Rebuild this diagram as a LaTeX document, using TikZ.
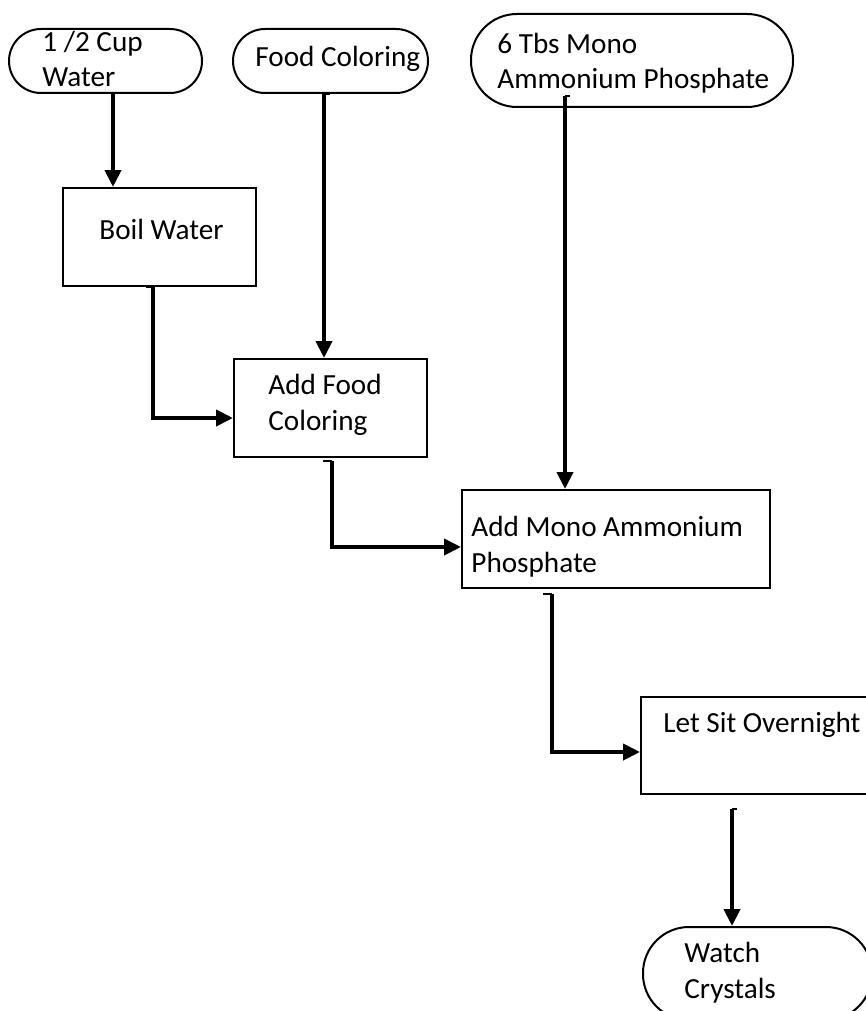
\documentclass[tikz,border=0pt]{standalone}
\usepackage{fontspec}
\setmainfont{Carlito}
\usetikzlibrary{arrows.meta}
\tikzstyle{terminal}=[draw,line width=1pt,rectangle]
\tikzstyle{process}=[draw,line width=1pt,rectangle]
\tikzstyle{flow}=[line width=2pt,-{Triangle[length=8.5pt,width=8pt]}]
\tikzstyle{hook}=[line width=1.2pt]
\tikzstyle{words}=[anchor=base west,inner sep=0pt,align=left,font=\fontsize{14.6}{17.8}\selectfont]

\begin{document}
\begin{tikzpicture}[x=0.5pt,y=-0.5pt]
        \useasboundingbox (0,0) rectangle (866,1011);
        \clip (0,0) rectangle (866,1011);
        % inputs
        \node[terminal,rounded corners=16pt,minimum width=96.5pt,minimum height=32pt] (cup) at (105.5,61) {};
        \node[terminal,rounded corners=16pt,minimum width=97.5pt,minimum height=32pt] (food) at (330.5,61) {};
        \node[terminal,rounded corners=23pt,minimum width=161pt,minimum height=46.5pt] (mono) at (632,60.5) {};
        \node[words] (cup-t) at (42,87) {1 /2 Cup\\Water};
        \node[words] (food-t) at (255,67) {Food Coloring};
        \node[words] (mono-t) at (497,89) {6 Tbs Mono\\Ammonium Phosphate};
        % steps
        \node[process,minimum width=96.5pt,minimum height=49pt] (boil) at (159.5,237) {};
        \node[process,minimum width=96.5pt,minimum height=49pt] (addfood) at (330.5,408) {};
        \node[process,minimum width=154pt,minimum height=49pt] (addmono) at (616,539) {};
        \node[process,minimum width=115.5pt,minimum height=48.5pt] (letsit) at (756.5,745.5) {};
        \node[terminal,rounded corners=23pt,minimum width=114.5pt,minimum height=46.5pt] (watch) at (757.5,973.5) {};
        \node[words] (boil-t) at (99,239) {Boil Water};
        \node[words] (addfood-t) at (268,430) {Add Food\\Coloring};
        \node[words] (addmono-t) at (471,572) {Add Mono Ammonium\\Phosphate};
        \node[words] (letsit-t) at (663,732) {Let Sit Overnight};
        \node[words] (watch-t) at (684,998) {Watch\\Crystals};
        % connectors
        \coordinate (s1) at ([shift={(7.5,0)}]cup.south);
        \draw[flow] (s1) -- (s1 |- boil.north);
        \coordinate (s2) at ([shift={(-6.5,0)}]food.south);
        \draw[hook] (s2) -- ++(6,0);
        \draw[flow] (s2) -- (s2 |- addfood.north);
        \coordinate (s3) at ([shift={(-6.5,0)}]boil.south);
        \draw[hook] (s3) -- ++(-7,0);
        \draw[flow] (s3) |- ([shift={(0,10)}]addfood.west);
        \coordinate (s4) at ([shift={(1.5,3)}]addfood.south);
        \draw[hook] (s4) -- ++(-9,0);
        \draw[flow] (s4) |- ([shift={(0,8)}]addmono.west);
        \coordinate (s5) at ([shift={(-67,-12)}]mono.south);
        \draw[hook] (s5) -- ++(5,0);
        \draw[flow] (s5) -- (s5 |- addmono.north);
        \coordinate (s6) at ([shift={(-64,5)}]addmono.south);
        \draw[hook] (s6) -- ++(-9,0);
        \draw[flow] (s6) |- ([shift={(0,6.5)}]letsit.west);
        \coordinate (s7) at ([shift={(-24.5,14)}]letsit.south);
        \draw[hook] (s7) -- ++(5,0);
        \draw[flow] (s7) -- (s7 |- watch.north);
      \end{tikzpicture}
\end{document}
